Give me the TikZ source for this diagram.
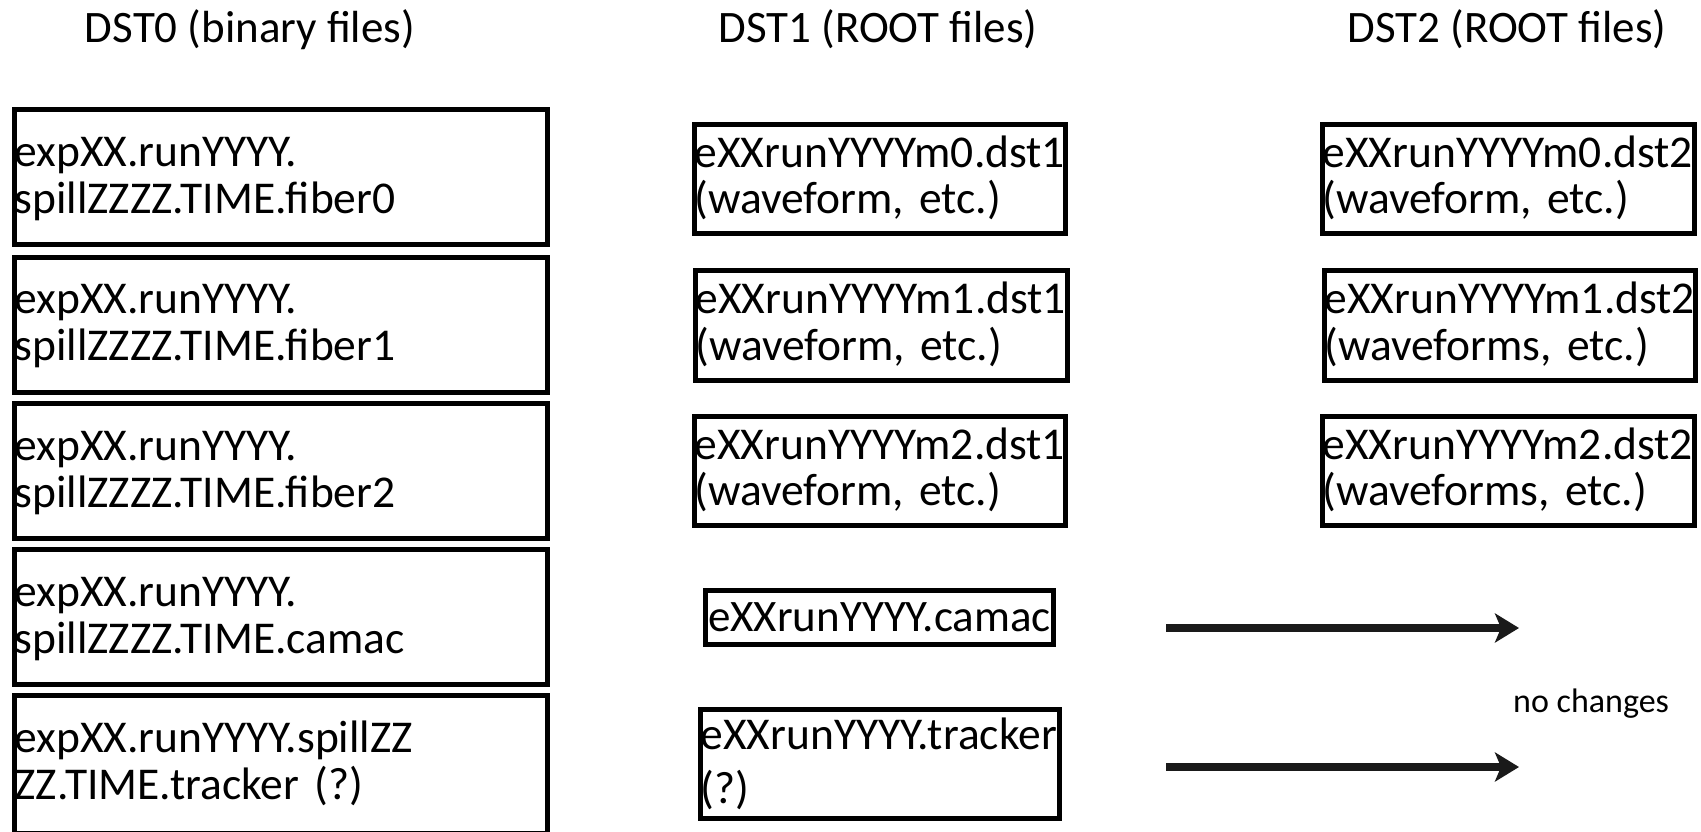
\documentclass[tikz,border=0pt]{standalone}
\usepackage{fontspec}
\setmainfont{Carlito}
\usetikzlibrary{arrows.meta}
\definecolor{arrowc}{HTML}{1A1A1A}
\newcommand{\mytop}[1]{\rule{0pt}{#1pt}}
\newcommand{\mybot}[1]{\rule[-#1pt]{0pt}{0pt}}
\begin{document}
\begin{tikzpicture}[x=1pt,y=-1pt,
  box/.style={draw=black, line width=5pt, inner xsep=0pt, inner ysep=0pt, align=left,
    font=\fontsize{45.5}{46.5}\selectfont},
  lbox/.style={box, minimum width=533pt, minimum height=135pt, text width=533pt,
    font=\fontsize{45.5}{47}\selectfont},
  mbox/.style={box, minimum height=109pt, text width=371pt},
  hdr/.style={anchor=base, inner sep=0pt, font=\fontsize{45}{46}\selectfont},
  flow/.style={line width=7.5pt, draw=arrowc, -{Stealth[length=24pt, width=29pt, inset=6pt]}}
]
\useasboundingbox (0,0) rectangle (1701,831);
\clip (0,0) rectangle (1701,831);

% headers
\node[hdr] (h0) at (250,42) {DST0 (binary files)};
\node[hdr] (h1) at (878,42) {DST1 (ROOT files)};
\node[hdr] (h2) at (1507,42) {DST2 (ROOT files)};

% DST0 column
\node[lbox] (d0a) at (281,177) {\mytop{37}expXX.runYYYY.\\spillZZZZ.TIME.fiber0\mybot{12}};
\node[lbox] (d0b) at (281,324.5) {\mytop{37}expXX.runYYYY.\\spillZZZZ.TIME.fiber1\mybot{12}};
\node[lbox] (d0c) at (281,471) {\mytop{37}expXX.runYYYY.\\spillZZZZ.TIME.fiber2\mybot{12}};
\node[lbox] (d0d) at (281,617) {\mytop{37}expXX.runYYYY.\\spillZZZZ.TIME.camac\mybot{12}};
\node[lbox, minimum height=138pt] (d0e) at (281,764.5) {\mytop{36}expXX.runYYYY.spillZZ\\ZZ.TIME.tracker (?)\mybot{14}};

% DST1 column
\node[mbox] (d1a) at (880,179) {\mytop{36}eXXrunYYYYm0.dst1\\(waveform, etc.)\mybot{13.5}};
\node[mbox, text width=372pt, minimum height=110pt] (d1b) at (881.5,325.5) {\mytop{36}eXXrunYYYYm1.dst1\\(waveform, etc.)\mybot{13.5}};
\node[mbox] (d1c) at (880,471) {\mytop{36}eXXrunYYYYm2.dst1\\(waveform, etc.)\mybot{13.5}};
\node[box, align=center, minimum width=348pt, minimum height=54pt, font=\fontsize{45}{46}\selectfont] (d1d) at (879.5,617.5) {eXXrunYYYY.camac};
\node[mbox, text width=359pt, font=\fontsize{45.5}{54}\selectfont] (d1e) at (880,764) {\mytop{37}eXXrunYYYY.tracker\\(?)\mybot{13}};

% DST2 column
\node[mbox, text width=372pt] (d2a) at (1508.5,179) {\mytop{36}eXXrunYYYYm0.dst2\\(waveform, etc.)\mybot{13.5}};
\node[mbox, text width=371pt, minimum height=110pt] (d2b) at (1510,325.5) {\mytop{36}eXXrunYYYYm1.dst2\\(waveforms, etc.)\mybot{13.5}};
\node[mbox, text width=372pt] (d2c) at (1508.5,471) {\mytop{36}eXXrunYYYYm2.dst2\\(waveforms, etc.)\mybot{13.5}};

% arrows and note
\coordinate (a1s) at (1166,628);
\coordinate (a1e) at (1519,628);
\coordinate (a2s) at (1166,767);
\coordinate (a2e) at (1519,767);
\draw[flow] (a1s) -- (a1e);
\draw[flow] (a2s) -- (a2e);
\node[anchor=base west, inner sep=0pt, font=\fontsize{34}{40}\selectfont] (nc) at (1513,712) {no changes};
\end{tikzpicture}
\end{document}
